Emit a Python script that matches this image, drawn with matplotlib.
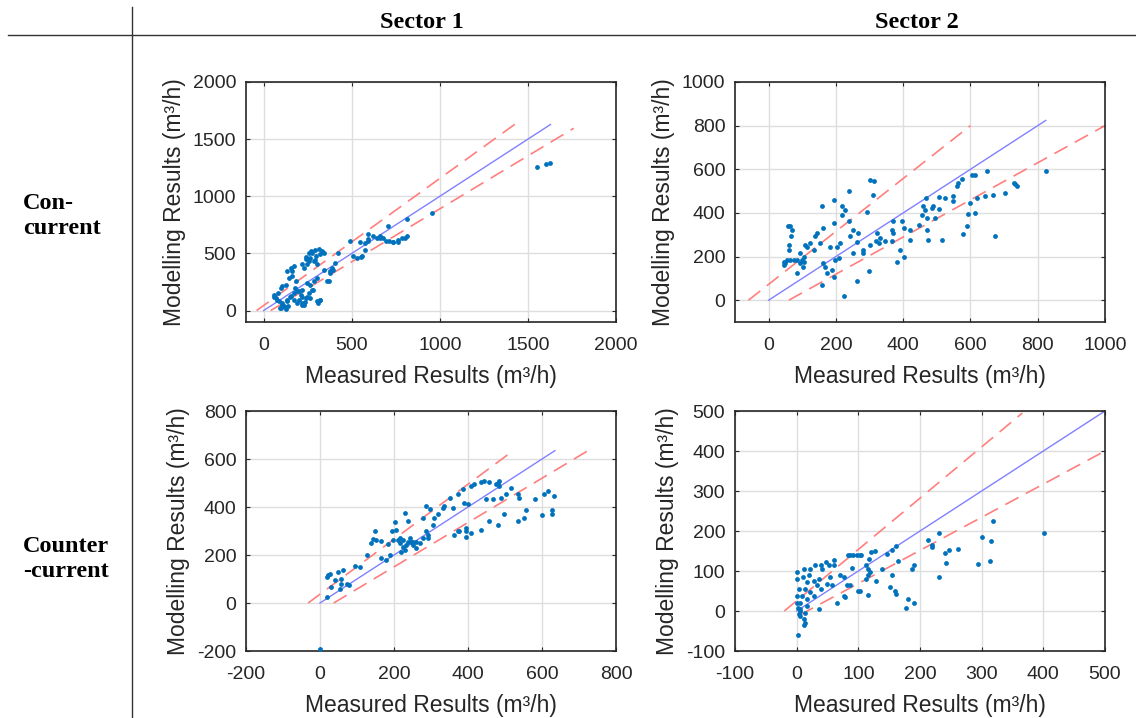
import numpy as np
import matplotlib
matplotlib.use('Agg')
import matplotlib.pyplot as plt

plt.rcParams['font.family'] = 'Liberation Sans'
plt.rcParams['axes.unicode_minus'] = False

#----------Sector 1, con-current
s1c_x = [313,332,294,275,266,257,238,247,229,285,303,322,341,172,154,135,163,182,144,125,
         107,97,79,60,69,88,107,97,116,135,154,172,191,210,200,219,229,238,257,275,
         266,285,303,322,369,378,388,425,491,528,556,594,659,697,734,762,800,
         1553,1600,1628,953,811,811,787,760,736,713,704,679,660,642,619,594,594,576,547,576,
         509,551,406,396,377,358,340,57,75,104,94,123,132,151,170,189,217,236,264,283,
         245,217,198,321,245,217,304,310,125,140,180,160,220,240,260,300,290,270]
s1c_y = [535,520,526,506,462,433,447,404,374,433,404,491,506,389,374,345,301,257,287,228,
         213,199,155,140,111,82,53,23,38,82,126,155,170,140,96,67,53,111,155,184,
         228,257,287,96,257,345,374,506,608,462,477,623,637,608,602,614,637,
         1257,1284,1295,854,800,649,632,600,600,611,743,634,649,634,649,667,611,590,596,532,
         474,468,415,357,327,263,357,123,94,64,20,35,94,123,94,64,50,79,108,181,
         240,181,167,94,123,123,80,70,10,40,200,350,410,470,500,480,440,520]

#----------Sector 2, con-current
s2c_x = [824,738,733,730,703,668,673,644,649,614,604,619,614,599,594,589,579,574,564,559,
         549,549,525,507,505,515,495,490,485,475,470,470,467,465,460,455,446,419,419,401,
         396,391,401,381,371,366,371,366,347,332,327,320,322,312,302,310,292,300,297,282,
         282,267,262,262,252,252,243,240,238,228,225,218,218,213,208,203,193,193,198,188,
         193,183,173,168,163,163,158,158,153,143,139,134,124,114,109,104,101,94,84,74,
         69,64,59,66,62,62,54,45,50,64,84,99,104,45,92]
s2c_y = [592,523,531,538,492,484,292,477,592,572,572,469,400,446,395,338,303,557,538,523,
         477,454,469,474,418,274,377,431,423,277,377,323,469,415,431,392,346,323,274,331,
         361,231,200,177,361,323,308,269,269,285,262,269,308,544,550,484,403,254,134,231,
         215,308,265,88,215,323,292,500,361,415,18,431,392,262,192,246,461,354,185,138,
         108,246,123,154,169,331,431,69,262,308,292,231,262,246,254,200,154,215,123,185,
         323,338,342,292,254,231,185,177,169,185,185,185,177,161,169]

#----------Sector 1, counter-current
s1k_x = [0,18,18,22,27,31,40,49,58,63,54,58,72,79,94,108,126,139,148,144,
         152,164,166,179,184,188,195,206,204,197,211,215,220,224,229,233,238,229,238,242,
         251,260,269,278,287,291,278,287,296,291,305,309,318,332,336,350,359,372,363,376,
         386,390,395,399,395,408,408,417,435,444,458,449,435,457,467,476,482,484,489,498,
         502,516,534,537,534,556,552,581,601,606,617,626,628,632,484,482,395,372,247,215,
         224,251,260]
s1k_y = [-190,24,108,115,122,66,94,130,101,137,59,80,80,73,155,151,200,249,301,268,
         263,259,186,179,245,200,301,306,338,263,263,249,214,263,376,242,341,221,256,270,
         242,256,249,270,298,284,355,404,390,270,327,355,369,397,404,439,397,453,284,298,
         475,418,313,411,277,291,489,496,503,507,503,432,306,341,432,496,327,507,439,369,
         456,479,453,439,341,386,355,432,366,456,465,386,372,446,489,498,298,298,256,270,
         235,256,228]

#----------Sector 2, counter-current
s2k_x = [401,318,301,315,313,294,261,247,240,242,231,230,219,220,213,191,187,180,178,191,
         164,161,155,161,159,152,154,147,139,128,127,121,118,116,115,113,115,119,113,105,
         103,98,92,87,84,90,100,103,87,81,76,71,79,76,65,60,60,57,49,41,
         39,36,33,39,36,30,28,22,20,17,14,12,11,9,6,5,4,6,12,12,
         2,1,1,4,1,1,2,14,17,22,28,47,52,54,14,6,17]
s2k_y = [196,224,184,176,125,117,154,152,146,119,196,85,165,161,177,116,104,30,8,19,
         125,163,152,42,51,59,91,142,104,76,151,148,131,89,40,114,106,97,80,140,
         141,141,141,141,140,108,51,51,64,64,85,89,34,38,21,127,114,64,68,106,
         114,80,64,55,6,114,76,106,89,72,55,106,85,38,21,4,-8,-13,-19,-36,
         -59,97,80,55,38,21,8,-4,30,47,38,123,114,85,-30,0,13]

#----------lineas de referencia (+-), [x0, x1], [y0, y1]
lim_sup_x = [[-40, 1435], [-60, 600], [-32, 525], [-20, 366]]
lim_sup_y = [[0, 1640], [0, 800], [0, 638], [0, 495]]
lim_inf_x = [[40, 1760], [60, 1000], [37, 730], [5, 500]]
lim_inf_y = [[0, 1595], [0, 800], [0, 640], [-10, 400]]
ideal_max = [1628, 824, 635, 500]

xlims = [(-100, 2000), (-100, 1000), (-200, 800), (-100, 500)]
ylims = [(-100, 2000), (-100, 1000), (-200, 800), (-100, 500)]
xticks = [np.arange(0, 2001, 500), np.arange(0, 1001, 200), np.arange(-200, 801, 200), np.arange(-100, 501, 100)]
yticks = [np.arange(0, 2001, 500), np.arange(0, 1001, 200), np.arange(-200, 801, 200), np.arange(-100, 501, 100)]

datos = [(s1c_x, s1c_y), (s2c_x, s2c_y), (s1k_x, s1k_y), (s2k_x, s2k_y)]

W, H = 1136, 718
fig = plt.figure(figsize=(W/100, H/100), dpi=100)

# posiciones de los ejes en pixeles (izq, arriba)
pos = [(246, 82), (735, 82), (246, 411), (735, 411)]
aw, ah = 370, 240

for i in range(4):
    l, t = pos[i]
    ax = fig.add_axes([l/W, 1-(t+ah)/H, aw/W, ah/H])
    ax.grid(True, color='#dedede', lw=1)
    ax.set_axisbelow(True)
    ax.plot(lim_sup_x[i], lim_sup_y[i], color='#ff7f7f', lw=1.2, dashes=(9, 5))
    ax.plot(lim_inf_x[i], lim_inf_y[i], color='#ff7f7f', lw=1.2, dashes=(9, 5))
    ax.plot([0, ideal_max[i]], [0, ideal_max[i]], color='#8080ff', lw=1)
    ax.scatter(datos[i][0], datos[i][1], s=12, color='#0072BD', zorder=3, linewidths=0)
    ax.set_xlim(xlims[i])
    ax.set_ylim(ylims[i])
    ax.set_xticks(xticks[i])
    ax.set_yticks(yticks[i])
    ax.tick_params(direction='in', length=3, width=0.8, top=True, right=True,
                   labelsize=14, colors='#262626', labelcolor='#262626')
    ax.tick_params(axis='x', pad=11)
    ax.tick_params(axis='y', pad=7)
    for sp in ax.spines.values():
        sp.set_color('#262626')
        sp.set_linewidth(1.2)
    ax.set_xlabel('Measured Results (m³/h)', fontsize=16.5, color='#262626', labelpad=8)
    ax.set_ylabel('Modelling Results (m³/h)', fontsize=16.5, color='#262626', labelpad=5)

#----------tabla
fig.add_artist(plt.Line2D([8/W, 1], [1-35/H, 1-35/H], color='#333333', lw=1))
fig.add_artist(plt.Line2D([132/W, 132/W], [0, 1-7/H], color='#333333', lw=1))

serif = dict(family='Liberation Serif', fontweight='bold', fontsize=17.5)
fig.text(422/W, 1-22/H, 'Sector 1', ha='center', va='center', **serif)
fig.text(917/W, 1-22/H, 'Sector 2', ha='center', va='center', **serif)
fig.text(23/W, 1-216/H, 'Con-\ncurrent', ha='left', va='center', linespacing=1.3, **serif)
fig.text(23/W, 1-559/H, 'Counter\n-current', ha='left', va='center', linespacing=1.3, **serif)

fig.savefig('out.png', dpi=100)
